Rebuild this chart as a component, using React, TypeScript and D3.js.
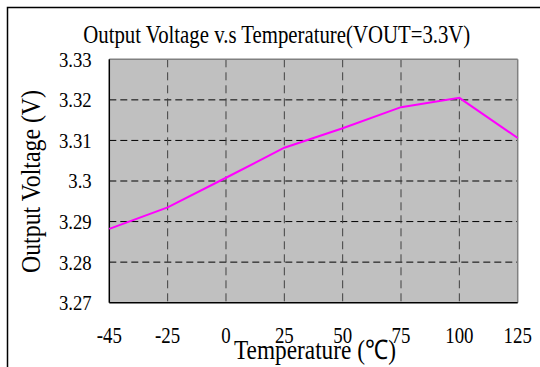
import React from "react";
import * as d3 from "d3";

const temperatures = ["-45", "-25", "0", "25", "50", "75", "100", "125"];
const voltages = [3.2882, 3.2935, 3.3008, 3.3082, 3.313, 3.3182, 3.3205, 3.3106];
const yTickValues = [3.27, 3.28, 3.29, 3.3, 3.31, 3.32, 3.33];
const yTickLabels = ["3.27", "3.28", "3.29", "3.3", "3.31", "3.32", "3.33"];
const titleText = "Output Voltage v.s Temperature(VOUT=3.3V)";
const xTitle = "Temperature (\u2103)";
const yTitle = "Output Voltage (V)";

const W = 540;
const H = 367;
const plot = { left: 109.3, right: 517.7, top: 59.3, bottom: 302.7 };
const FONT = "'Liberation Serif', 'Times New Roman', serif";

export default function App() {
  const x = d3.scalePoint<string>().domain(temperatures).range([plot.left, plot.right]).padding(0);
  const y = d3.scaleLinear().domain([3.27, 3.33]).range([plot.bottom, plot.top]);
  const line = d3
    .line<number>()
    .x((_, i) => x(temperatures[i]) as number)
    .y((d) => y(d));

  const innerX = temperatures.slice(1, -1);
  const innerY = yTickValues.slice(1, -1);

  return (
    <svg
      width={W}
      height={H}
      style={{ position: "absolute", left: 0, top: 0, background: "#fff" }}
      fontFamily={FONT}
    >
      <rect x={7.5} y={7.5} width={700} height={700} fill="none" stroke="#000" strokeWidth={1.5} />
      <text x={83.3} y={43.3} fontSize={25} textLength={387} lengthAdjust="spacingAndGlyphs" fill="#000">
        {titleText}
      </text>
      <rect
        x={plot.left}
        y={plot.top}
        width={plot.right - plot.left}
        height={plot.bottom - plot.top}
        fill="#c0c0c0"
      />
      {innerY.map((v) => (
        <line
          key={"h" + v}
          x1={plot.left}
          x2={plot.right}
          y1={y(v)}
          y2={y(v)}
          stroke="#000"
          strokeWidth={1}
          strokeDasharray="7,4"
        />
      ))}
      {innerX.map((t) => (
        <line
          key={"v" + t}
          x1={x(t)}
          x2={x(t)}
          y1={plot.top}
          y2={plot.bottom}
          stroke="#404040"
          strokeWidth={1}
          strokeDasharray="8,5"
        />
      ))}
      <line x1={plot.left} x2={plot.right} y1={plot.top} y2={plot.top} stroke="#808080" strokeWidth={1.5} />
      <line x1={plot.right} x2={plot.right} y1={plot.top} y2={plot.bottom} stroke="#808080" strokeWidth={1.5} />
      <line x1={plot.left} x2={plot.left} y1={plot.top} y2={plot.bottom} stroke="#000" strokeWidth={1.5} />
      <line x1={plot.left} x2={plot.right} y1={plot.bottom} y2={plot.bottom} stroke="#000" strokeWidth={1.5} />
      <path d={line(voltages) || ""} fill="none" stroke="#ff00ff" strokeWidth={2} />
      {yTickValues.map((v, i) => (
        <text
          key={"yl" + v}
          transform={`translate(91.7, ${y(v)}) scale(0.85, 1)`}
          textAnchor="end"
          dy="0.34em"
          fontSize={22}
          fill="#000"
        >
          {yTickLabels[i]}
        </text>
      ))}
      {temperatures.map((t) => (
        <text
          key={"xl" + t}
          transform={`translate(${x(t)}, 343.3) scale(0.82, 1)`}
          textAnchor="middle"
          fontSize={23}
          fill="#000"
        >
          {t}
        </text>
      ))}
      <text x={234} y={358.8} fontSize={27} textLength={162} lengthAdjust="spacingAndGlyphs" fill="#000">
        {xTitle}
      </text>
      <text
        transform="translate(39.5, 273) rotate(-90)"
        fontSize={27}
        textLength={183}
        lengthAdjust="spacingAndGlyphs"
        fill="#000"
      >
        {yTitle}
      </text>
    </svg>
  );
}
